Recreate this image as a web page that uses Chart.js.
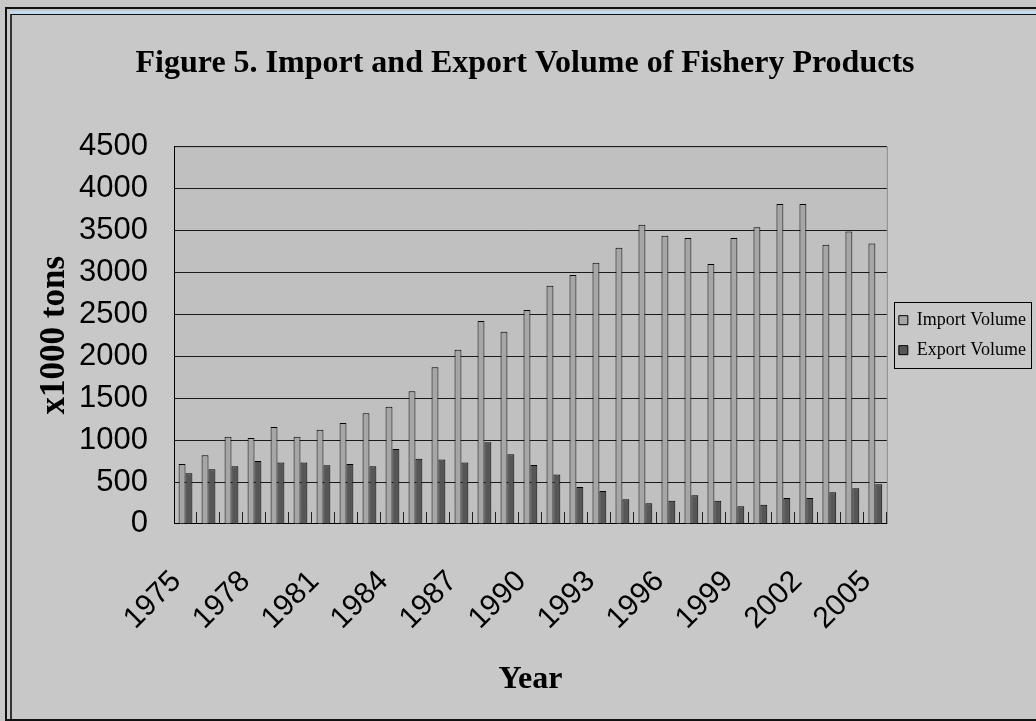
<!DOCTYPE html>
<html>
<head>
<meta charset="utf-8">
<title>Import and Export Volume of Fishery Products</title>
<script src="https://cdn.jsdelivr.net/npm/chart.js@4/dist/chart.umd.min.js"></script>
<style>
  html, body { margin: 0; padding: 0; background: #c8c8c8; overflow: hidden; }
  #frame {
    position: absolute; left: 5px; top: 7px; width: 1100px; height: 710px;
    border-left: 2px solid #111; border-top: 2px solid #111; border-bottom: 2px solid #111;
  }
  #band { position: absolute; left: 3px; top: 2px; right: 0; height: 3px; background: #c4dcf2; }
  #inner {
    position: absolute; left: 3px; top: 5px; right: 0; bottom: 0;
    border-left: 2px solid #333; border-top: 1px solid #111;
  }
  #wrap { position: absolute; left: 0; top: 0; width: 1036px; height: 721px; z-index: 1; }
</style>
</head>
<body>
<div id="frame"><div id="band"></div><div id="inner"></div></div>
<div id="wrap"><canvas id="fishchart"></canvas></div>
<script>
const years = ["1975", "1976", "1977", "1978", "1979", "1980", "1981", "1982", "1983", "1984",
    "1985", "1986", "1987", "1988", "1989", "1990", "1991", "1992", "1993", "1994",
    "1995", "1996", "1997", "1998", "1999", "2000", "2001", "2002", "2003", "2004", "2005"];

// x1000 tons
const importVolume = [715, 818, 1040, 1025, 1156, 1040, 1124, 1203, 1318, 1398,
    1581, 1867, 2077, 2419, 2292, 2550, 2840, 2967, 3114, 3292,
    3566, 3435, 3407, 3098, 3407, 3535, 3813, 3813, 3328, 3487, 3344];
const exportVolume = [604, 651, 687, 751, 731, 731, 699, 715, 687, 894,
    778, 767, 731, 973, 830, 703, 588, 441, 393, 294,
    246, 278, 342, 278, 210, 230, 310, 310, 377, 425, 473];

const sansNarrow = "'Liberation Sans Narrow', 'Liberation Sans', Arial, sans-serif";
const serif = "'Liberation Serif', 'Times New Roman', serif";

// grey plot background, plus the frame drawn around the legend
const plotFrame = {
    id: 'plotFrame',
    beforeDraw(chart) {
        const a = chart.chartArea;
        const ctx = chart.ctx;
        ctx.save();
        ctx.fillStyle = '#c0c0c0';
        ctx.fillRect(a.left, a.top, a.right - a.left, a.bottom - a.top);
        ctx.strokeStyle = '#8a8a8a';
        ctx.lineWidth = 1;
        ctx.beginPath();
        ctx.moveTo(a.left, a.top + 0.5);
        ctx.lineTo(a.right + 0.5, a.top + 0.5);
        ctx.lineTo(a.right + 0.5, a.bottom);
        ctx.stroke();
        ctx.restore();
    },
    afterDraw(chart) {
        const boxes = chart.legend.legendHitBoxes;
        if (!boxes || !boxes.length) return;
        let x1 = Infinity, y1 = Infinity, x2 = -Infinity, y2 = -Infinity;
        boxes.forEach(b => {
            x1 = Math.min(x1, b.left);
            y1 = Math.min(y1, b.top);
            x2 = Math.max(x2, b.left + b.width);
            y2 = Math.max(y2, b.top + b.height);
        });
        const ctx = chart.ctx;
        ctx.save();
        ctx.strokeStyle = '#000';
        ctx.lineWidth = 1;
        ctx.strokeRect(Math.round(x1 - 5) + 0.5, Math.round(y1 - 9) + 0.5, Math.round(x2 - x1 + 10), Math.round(y2 - y1 + 18));
        ctx.restore();
    }
};

const ctx = document.getElementById('fishchart').getContext('2d');
const myChart = new Chart(ctx, {
    type: 'bar',
    data: {
        labels: years,
        datasets: [
            {
                label: "Import Volume",
                data: importVolume,
                backgroundColor: "#a6a6a6",
                borderColor: "#000",
                borderWidth: 1,
                borderSkipped: 'bottom'
            }, {
                label: "Export Volume",
                data: exportVolume,
                backgroundColor: "#565656",
                borderColor: "#000",
                borderWidth: 1,
                borderSkipped: 'bottom'
            }]
    },
    options: {
        responsive: true,
        maintainAspectRatio: false,
        animation: false,
        datasets: {
            bar: { categoryPercentage: 0.6, barPercentage: 1.0 }
        },
        layout: {
            padding: { left: 14, right: 0, top: 0, bottom: 22 }
        },
        plugins: {
            title: {
                display: true,
                text: "Figure 5. Import and Export Volume of Fishery Products",
                color: '#000',
                font: { family: serif, size: 32, weight: 'bold' },
                padding: { top: 45, bottom: 63 }
            },
            legend: {
                position: 'right',
                fullSize: false,
                labels: {
                    boxWidth: 9,
                    boxHeight: 9,
                    padding: 12,
                    color: '#000',
                    font: { family: serif, size: 18 }
                }
            },
            tooltip: { enabled: false }
        },
        scales: {
            x: {
                grid: {
                    offset: true,
                    drawOnChartArea: false,
                    tickLength: -12,
                    color: '#222'
                },
                border: { color: '#000', width: 1 },
                ticks: {
                    autoSkip: false,
                    maxRotation: 45,
                    minRotation: 45,
                    padding: 52,
                    labelOffset: -9,
                    color: '#000',
                    font: { family: sansNarrow, size: 30 },
                    callback: (value, index) => index % 3 === 0 ? years[index] : ''
                },
                // the y axis already leaves room for the first rotated label
                afterFit: scale => { scale.paddingLeft = 0; },
                title: {
                    display: true,
                    text: 'Year',
                    color: '#000',
                    font: { family: serif, size: 32, weight: 'bold' },
                    padding: { top: -28, bottom: 0 }
                }
            },
            y: {
                min: 0,
                max: 4500,
                grid: { color: '#1a1a1a', drawTicks: false },
                border: { color: '#000', width: 1 },
                ticks: {
                    stepSize: 500,
                    maxTicksLimit: 11,
                    padding: 26,
                    color: '#000',
                    font: { family: sansNarrow, size: 31, lineHeight: 1 },
                    callback: value => String(value)
                },
                afterFit: scale => { scale.width = 160; },
                title: {
                    display: true,
                    text: 'x1000 tons',
                    color: '#000',
                    font: { family: serif, size: 35, weight: 'bold' },
                    padding: { top: 20, bottom: 3 }
                }
            }
        }
    },
    plugins: [plotFrame]
});
</script>
</body>
</html>
